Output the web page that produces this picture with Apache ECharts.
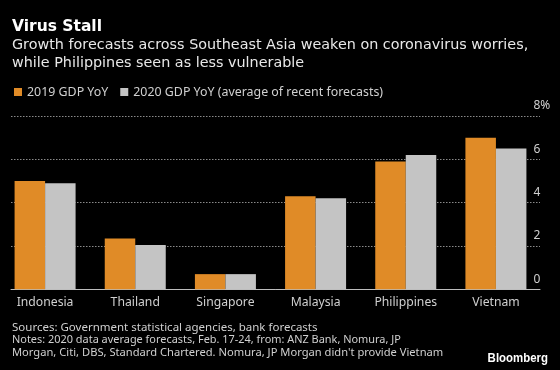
<!DOCTYPE html>
<html>
<head>
<meta charset="utf-8">
<script src="https://cdn.jsdelivr.net/npm/echarts@6/dist/echarts.min.js"></script>
<style>html,body{margin:0;padding:0;background:#000;}#c{width:560px;height:370px;}</style>
</head>
<body>
<div id="c"></div>
<script>
const categories = ['Indonesia', 'Thailand', 'Singapore', 'Malaysia', 'Philippines', 'Vietnam'];
const gdp2019 = [5.0, 2.35, 0.7, 4.3, 5.9, 7.0];
const gdp2020 = [4.9, 2.05, 0.7, 4.2, 6.2, 6.5];
const seriesNames = ['2019 GDP YoY', '2020 GDP YoY (average of recent forecasts)'];
const yTicks = [0, 2, 4, 6, 8];
const titleText = 'Virus Stall';
const subtitleLines = ['Growth forecasts across Southeast Asia weaken on coronavirus worries,', 'while Philippines seen as less vulnerable'];
const noteLines = ['Sources: Government statistical agencies, bank forecasts', 'Notes: 2020 data average forecasts, Feb. 17-24, from: ANZ Bank, Nomura, JP', 'Morgan, Citi, DBS, Standard Chartered. Nomura, JP Morgan didn\'t provide Vietnam'];

const FONT = '"Noto Sans", sans-serif';
const chart = echarts.init(document.getElementById('c'), null, {renderer: 'canvas'});

const textEl = (text, x, y, font, fill, align, sx) => ({
  type: 'text', x: x, y: y, silent: true, scaleX: sx || 1,
  style: {text: text, font: font, fill: fill, align: align || 'left', verticalAlign: 'middle'}
});

const graphics = [
  textEl(titleText, 12, 27, 'bold 15.5px "DejaVu Sans"', '#ffffff'),
  textEl(subtitleLines[0], 12, 45.5, '14px "DejaVu Sans"', '#e8e8e8', 'left', 1.025),
  textEl(subtitleLines[1], 12, 63, '14px "DejaVu Sans"', '#e8e8e8', 'left', 1.025),
  textEl(noteLines[0], 12, 327.5, '11.5px ' + FONT, '#d0d0d0'),
  textEl(noteLines[1], 12, 340, '11.5px ' + FONT, '#d0d0d0', 'left', 0.95),
  textEl(noteLines[2], 12, 352.5, '11.5px ' + FONT, '#d0d0d0', 'left', 0.97),
  textEl('Bloomberg', 548, 358, 'bold 13px "Liberation Sans"', '#ffffff', 'right', 0.88)
];

chart.setOption({
  backgroundColor: '#000000',
  animation: false,
  graphic: graphics,
  legend: {
    left: 14, top: 86, padding: 0,
    icon: 'rect', itemWidth: 8, itemHeight: 8, itemGap: 12,
    textStyle: {color: '#d0d0d0', fontSize: 12.4, fontFamily: FONT, padding: [0, 0, 0, 0]},
    data: seriesNames
  },
  grid: [
    {left: -2, top: 116, width: 543, height: 173.3},
    {left: 11, top: 116, width: 529, height: 173.3}
  ],
  xAxis: [
    {
      type: 'category', gridIndex: 0, data: categories,
      axisLine: {show: false}, axisTick: {show: false},
      axisLabel: {color: '#d0d0d0', fontSize: 12.2, fontFamily: FONT, margin: 7}
    },
    {
      type: 'value', gridIndex: 1, min: 0, max: 1,
      axisLine: {show: true, lineStyle: {color: '#bdbdbd', width: 1}},
      axisTick: {show: false}, axisLabel: {show: false}, splitLine: {show: false}
    }
  ],
  yAxis: [
    {
      type: 'value', gridIndex: 0, min: yTicks[0], max: yTicks[yTicks.length - 1], interval: 2,
      show: false
    },
    {
      type: 'value', gridIndex: 1, position: 'right',
      min: yTicks[0], max: yTicks[yTicks.length - 1], interval: 2,
      axisLine: {show: false}, axisTick: {show: false},
      axisLabel: {
        color: '#d0d0d0', fontSize: 12, fontFamily: FONT, margin: -6.5, align: 'left',
        verticalAlign: 'bottom', padding: [0, 0, 4, 0],
        formatter: v => v === yTicks[yTicks.length - 1] ? v + '%' : String(v)
      },
      splitLine: {show: true, lineStyle: {color: '#8a8a8a', type: [1.5, 1.5], width: 1}}
    }
  ],
  series: [
    {
      name: seriesNames[0], type: 'bar', xAxisIndex: 0, yAxisIndex: 0,
      data: gdp2019, barWidth: 30.5, barGap: '0%',
      itemStyle: {color: '#E08B27'}
    },
    {
      name: seriesNames[1], type: 'bar', xAxisIndex: 0, yAxisIndex: 0,
      data: gdp2020, barWidth: 30.5, barGap: '0%',
      itemStyle: {color: '#C4C4C4'}
    }
  ]
});
</script>
</body>
</html>
